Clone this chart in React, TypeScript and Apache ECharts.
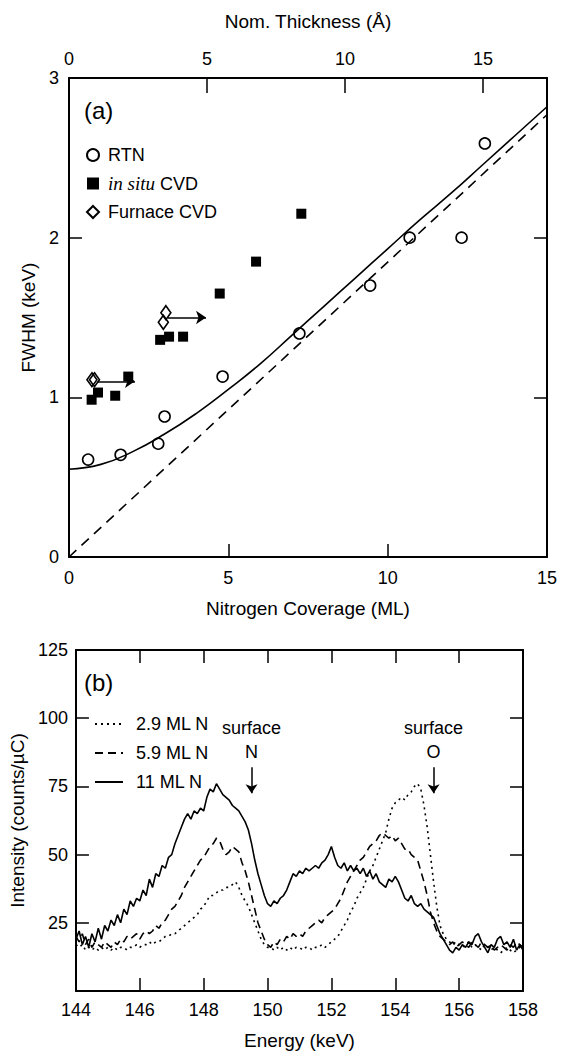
import React, { useEffect, useRef } from 'react';
import * as echarts from 'echarts';

// ---------- Panel (a) data ----------
const rtnX = [0.6, 1.62, 2.8, 3.0, 4.82, 7.23, 9.45, 10.69, 12.32, 13.05];
const rtnY = [0.61, 0.64, 0.71, 0.88, 1.13, 1.4, 1.7, 2.0, 2.0, 2.59];
const cvdX = [0.71, 0.91, 1.45, 1.86, 2.86, 3.14, 3.58, 4.73, 5.87, 7.29];
const cvdY = [0.985, 1.03, 1.01, 1.13, 1.36, 1.38, 1.38, 1.65, 1.85, 2.15];
const furnX = [0.72, 0.8, 2.96, 3.04];
const furnY = [1.11, 1.11, 1.47, 1.53];
const fitX = [0, 1, 2, 3, 4, 5, 6, 7, 8, 9, 10, 11, 12, 13, 14, 15];
const fitY = [0.55, 0.58, 0.66, 0.77, 0.9, 1.05, 1.21, 1.39, 1.57, 1.75, 1.93, 2.11, 2.28, 2.46, 2.64, 2.82];
const linX = [0, 15];
const linY = [0, 2.77];
const arrowStartX = [0.9, 3.1];
const arrowEndX = [2.07, 4.3];
const arrowY = [1.1, 1.5];
const covTicks = [0, 5, 10, 15];
const thickTicks = [0, 5, 10, 15];
const thickMax = 17.32;
const fwhmTicks = [0, 1, 2, 3];

// ---------- Panel (b) data ----------
const E_START = 144;
const E_STEP = 0.1;
const ml29 = [
  17, 16, 17, 15, 16, 15, 16, 15, 16, 15,
  16, 15, 16, 15, 16, 16, 15, 16, 16, 17,
  16, 17, 17, 18, 17, 18, 18, 19, 20, 20,
  21, 21, 22, 23, 24, 25, 26, 27, 28, 30,
  31, 33, 35, 35, 36, 37, 37, 38, 38, 39,
  40, 38, 35, 33, 31, 28, 25, 22, 19, 17,
  16, 16, 15, 16, 15, 16, 15, 16, 15, 16,
  16, 15, 16, 16, 15, 16, 16, 17, 16, 17,
  18, 19, 20, 22, 24, 26, 29, 31, 34, 36,
  38, 41, 44, 46, 49, 52, 55, 58, 63, 67,
  69, 70, 71, 70, 72, 73, 75, 76, 74, 68,
  60, 50, 40, 31, 24, 21, 19, 18, 17, 18,
  17, 16, 17, 18, 16, 17, 16, 15, 17, 16,
  15, 16, 15, 14, 15, 16, 15, 14, 15, 16,
  15,
];
const ml59 = [
  20, 18, 21, 17, 19, 16, 18, 17, 16, 18,
  17, 16, 18, 17, 19, 18, 20, 19, 20, 21,
  19, 21, 22, 21, 22, 24, 23, 25, 26, 28,
  30, 31, 33, 35, 38, 40, 42, 44, 46, 48,
  49, 51, 53, 54, 56, 55, 52, 50, 51, 53,
  52, 51, 47, 44, 40, 35, 30, 25, 22, 19,
  17, 16, 18, 17, 19, 18, 20, 19, 21, 20,
  21, 20, 22, 23, 24, 25, 26, 25, 27, 28,
  29, 30, 32, 34, 37, 40, 42, 44, 46, 48,
  49, 51, 53, 54, 55, 57, 58, 57, 56, 57,
  55, 56, 54, 52, 52, 50, 49, 48, 44, 40,
  35, 29, 25, 22, 20, 19, 18, 17, 18, 16,
  17, 18, 17, 16, 18, 17, 16, 18, 17, 16,
  17, 15, 16, 17, 16, 15, 17, 16, 18, 17,
  16,
];
const ml11 = [
  19, 22, 17, 20, 16, 21, 18, 23, 19, 24,
  22, 26, 24, 28, 25, 30, 28, 33, 31, 34,
  33, 37, 35, 41, 38, 43, 42, 46, 45, 49,
  50, 54, 57, 60, 63, 65, 63, 66, 65, 67,
  66, 71, 74, 73, 76, 74, 72, 71, 70, 68,
  67, 66, 64, 62, 59, 54, 48, 43, 39, 35,
  32, 31, 33, 32, 34, 35, 37, 40, 43, 42,
  44, 43, 45, 44, 45, 46, 45, 47, 48, 50,
  53, 49, 46, 45, 47, 44, 46, 44, 45, 43,
  45, 42, 44, 41, 43, 40, 39, 38, 41, 40,
  42, 40, 37, 34, 33, 35, 32, 31, 32, 30,
  29, 28, 27, 24, 21, 19, 17, 15, 14, 16,
  15, 17, 16, 18, 17, 20, 21, 18, 16, 14,
  17, 16, 19, 20, 17, 18, 16, 19, 15, 17,
  15,
];
const surfaceE = [149.5, 155.2];
const surfaceTag = ['N', 'O'];
const energyTicks = [144, 146, 148, 150, 152, 154, 156, 158];
const intensityTicks = [0, 25, 50, 75, 100, 125];

const FONT = "'Liberation Sans', Arial, Helvetica, sans-serif";
const BLACK = '#000';

const toSeries = (vals: number[]) => vals.map((v, i) => [+(E_START + i * E_STEP).toFixed(2), v]);
const zip = (xs: number[], ys: number[]) => xs.map((x, i) => [x, ys[i]]);

function axisCommon(extra: any) {
  return {
    type: 'value',
    splitLine: { show: false },
    axisLine: { show: true, onZero: false, lineStyle: { color: BLACK, width: 2 } },
    nameTextStyle: { color: BLACK, fontSize: 19, fontFamily: FONT },
    ...extra,
  };
}
const tick = (vals: number[], length = 13) => ({
  show: true, inside: true, length, lineStyle: { color: BLACK, width: 1.5 }, customValues: vals,
});
const label = (vals: number[], margin: number, extra: any = {}) => ({
  color: BLACK, fontSize: 18, fontFamily: FONT, margin, customValues: vals, ...extra,
});

export default function App() {
  const ref = useRef<HTMLDivElement>(null);
  useEffect(() => {
    if (!ref.current) return;
    const chart = echarts.init(ref.current, undefined, { renderer: 'svg' });
    const option: any = {
      animation: false,
      grid: [
        { left: 69, top: 78, width: 478, height: 479, show: false },
        { left: 68, top: 650, width: 455, height: 342, show: false },
      ],
      graphic: [
        { type: 'text', left: 84, top: 98, style: { text: '(a)', fontSize: 24, fontFamily: FONT, fill: BLACK } },
        { type: 'text', left: 84, top: 670, style: { text: '(b)', fontSize: 24, fontFamily: FONT, fill: BLACK } },
      ],
      legend: [
        {
          data: ['RTN', 'in situ CVD', 'Furnace CVD'],
          orient: 'vertical',
          left: 81,
          top: 141,
          itemWidth: 12,
          itemHeight: 12,
          itemGap: 10,
          formatter: (n: string) => (n === 'in situ CVD' ? '{i|in situ} CVD' : n),
          textStyle: {
            color: BLACK,
            fontSize: 18,
            fontFamily: FONT,
            padding: [0, 0, 0, 4],
            rich: { i: { fontFamily: "'Liberation Serif', 'Times New Roman', serif", fontStyle: 'italic', fontSize: 19, color: BLACK } },
          },
          selectedMode: false,
        },
        {
          data: ['2.9 ML N', '5.9 ML N', '11 ML N'],
          orient: 'vertical',
          left: 89,
          top: 710,
          itemWidth: 28,
          itemHeight: 14,
          itemGap: 11,
          itemStyle: { opacity: 0 },
          textStyle: { color: BLACK, fontSize: 18, fontFamily: FONT, padding: [0, 0, 0, 8] },
          selectedMode: false,
        },
      ],
      xAxis: [
        axisCommon({
          gridIndex: 0, position: 'bottom', min: 0, max: 15, interval: 5,
          name: 'Nitrogen Coverage (ML)', nameLocation: 'middle', nameGap: 42,
          axisLabel: label(covTicks, 12), axisTick: tick(covTicks),
        }),
        axisCommon({
          gridIndex: 0, position: 'top', min: 0, max: thickMax,
          name: 'Nom. Thickness (Å)', nameLocation: 'middle', nameGap: 47,
          axisLabel: label(thickTicks, 10), axisTick: tick(thickTicks, 15),
        }),
        axisCommon({
          gridIndex: 1, position: 'bottom', min: 144, max: 158, interval: 2,
          name: 'Energy (keV)', nameLocation: 'middle', nameGap: 40,
          axisLabel: label(energyTicks, 10), axisTick: tick(energyTicks),
        }),
        axisCommon({
          gridIndex: 1, position: 'top', min: 144, max: 158, interval: 2,
          axisLabel: { show: false }, axisTick: tick(energyTicks),
        }),
      ],
      yAxis: [
        axisCommon({
          gridIndex: 0, position: 'left', min: 0, max: 3, interval: 1,
          name: 'FWHM (keV)', nameLocation: 'middle', nameGap: 30,
          axisLabel: label(fwhmTicks, 10), axisTick: tick(fwhmTicks),
        }),
        axisCommon({
          gridIndex: 0, position: 'right', min: 0, max: 3, interval: 1,
          axisLabel: { show: false }, axisTick: tick(fwhmTicks),
        }),
        axisCommon({
          gridIndex: 1, position: 'left', min: 0, max: 125, interval: 25,
          name: 'Intensity (counts/µC)', nameLocation: 'middle', nameGap: 40,
          axisLabel: label(intensityTicks, 8, { formatter: (v: number) => (v === 0 ? '' : String(v)) }),
          axisTick: tick(intensityTicks),
        }),
        axisCommon({
          gridIndex: 1, position: 'right', min: 0, max: 125, interval: 25,
          axisLabel: { show: false }, axisTick: tick(intensityTicks),
        }),
      ],
      series: [
        {
          name: 'fit', type: 'line', xAxisIndex: 0, yAxisIndex: 0, smooth: true, symbol: 'none',
          lineStyle: { color: BLACK, width: 1.6 }, data: zip(fitX, fitY), silent: true, z: 2,
        },
        {
          name: 'linear', type: 'line', xAxisIndex: 0, yAxisIndex: 0, symbol: 'none',
          lineStyle: { color: BLACK, width: 1.6, type: [10, 7] }, data: zip(linX, linY), silent: true, z: 2,
        },
        {
          name: 'arrows', type: 'line', xAxisIndex: 0, yAxisIndex: 0, data: [], silent: true,
          markLine: {
            silent: true, symbol: ['none', 'arrow'], symbolSize: 10, label: { show: false },
            lineStyle: { color: BLACK, width: 1.5, type: 'solid' },
            data: arrowY.map((y, i) => [{ coord: [arrowStartX[i], y] }, { coord: [arrowEndX[i], y] }]),
          },
        },
        {
          name: 'RTN', type: 'scatter', xAxisIndex: 0, yAxisIndex: 0, symbol: 'circle', symbolSize: 11,
          itemStyle: { color: 'rgba(255,255,255,0)', borderColor: BLACK, borderWidth: 1.6, opacity: 1 },
          data: zip(rtnX, rtnY), z: 3,
        },
        {
          name: 'in situ CVD', type: 'scatter', xAxisIndex: 0, yAxisIndex: 0, symbol: 'rect', symbolSize: 10,
          itemStyle: { color: BLACK, opacity: 1 }, data: zip(cvdX, cvdY), z: 3,
        },
        {
          name: 'Furnace CVD', type: 'scatter', xAxisIndex: 0, yAxisIndex: 0, symbol: 'diamond', symbolSize: [10, 14],
          itemStyle: { color: 'rgba(255,255,255,0)', borderColor: BLACK, borderWidth: 1.6, opacity: 1 },
          data: zip(furnX, furnY), z: 3,
        },
        {
          name: '2.9 ML N', type: 'line', xAxisIndex: 2, yAxisIndex: 2, symbol: 'none',
          itemStyle: { color: BLACK }, lineStyle: { color: BLACK, width: 1.6, type: [2, 4] }, data: toSeries(ml29),
        },
        {
          name: '5.9 ML N', type: 'line', xAxisIndex: 2, yAxisIndex: 2, symbol: 'none',
          itemStyle: { color: BLACK }, lineStyle: { color: BLACK, width: 1.6, type: [8, 5] }, data: toSeries(ml59),
        },
        {
          name: '11 ML N', type: 'line', xAxisIndex: 2, yAxisIndex: 2, symbol: 'none',
          itemStyle: { color: BLACK }, lineStyle: { color: BLACK, width: 1.6 }, data: toSeries(ml11),
        },
        {
          name: 'surfaceArrows', type: 'line', xAxisIndex: 2, yAxisIndex: 2, data: [], silent: true,
          markLine: {
            silent: true, symbol: ['none', 'arrow'], symbolSize: 9, label: { show: false },
            lineStyle: { color: BLACK, width: 1.5, type: 'solid' },
            data: surfaceE.map((e) => [{ coord: [e, 82] }, { coord: [e, 72.5] }]),
          },
        },
        {
          name: 'surfaceLabels', type: 'scatter', xAxisIndex: 2, yAxisIndex: 2, symbolSize: 1, silent: true,
          itemStyle: { color: 'rgba(0,0,0,0)', opacity: 1 },
          label: { show: true, position: 'inside', color: BLACK, fontSize: 18, fontFamily: FONT, opacity: 1, textBorderWidth: 0 },
          data: [
            ...surfaceE.map((e) => ({ value: [e, 96.5], label: { formatter: 'surface' } })),
            ...surfaceE.map((e, i) => ({ value: [e, 87.5], label: { formatter: surfaceTag[i] } })),
          ],
        },
      ],
    };
    chart.setOption(option);
    return () => chart.dispose();
  }, []);
  return <div ref={ref} style={{ position: 'absolute', left: 0, top: 0, width: 562, height: 1051, background: '#fff' }} />;
}
